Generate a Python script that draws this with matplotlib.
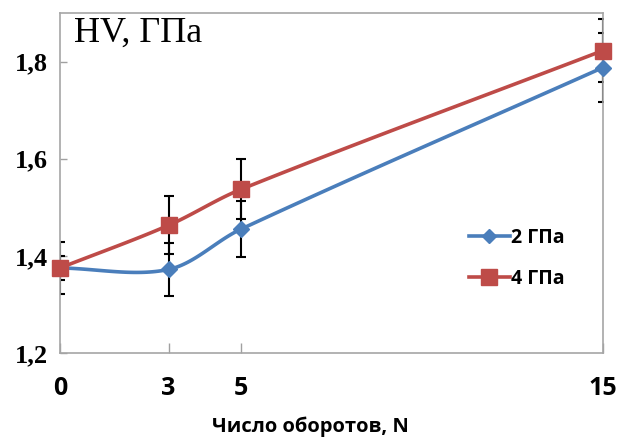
import numpy as np
import matplotlib.pyplot as plt

# Число оборотов N
oboroty = [0, 3, 5, 15]
# Микротвердость HV, ГПа
hv_2gpa = [1.375, 1.372, 1.455, 1.788]
hv_4gpa = [1.375, 1.463, 1.537, 1.823]
# Погрешности
err_2gpa = [0.025, 0.055, 0.057, 0.072]
err_4gpa = [0.054, 0.060, 0.062, 0.065]

x_ticks = [0, 3, 5, 15]
y_ticks = [1.2, 1.4, 1.6, 1.8]
y_labels = ['1,2', '1,4', '1,6', '1,8']


def sglazhivanie(ax, x, y, n=40):
    # сглаженная линия: кривые Безье, касательные считаются в пикселях
    tr = ax.transData
    p = tr.transform(np.column_stack([x, y]).astype(float))
    p_ext = np.vstack([p[0], p, p[-1]])
    t = np.linspace(0, 1, n)[:, None]
    pts = []
    for i in range(len(p) - 1):
        p0, p1, p2, p3 = p_ext[i], p_ext[i + 1], p_ext[i + 2], p_ext[i + 3]
        d01 = np.hypot(*(p1 - p0))
        d12 = np.hypot(*(p2 - p1))
        d23 = np.hypot(*(p3 - p2))
        c1 = p1 + (p2 - p0) * d12 / (d01 + d12) / 3
        c2 = p2 - (p3 - p1) * d12 / (d12 + d23) / 3
        seg = ((1 - t) ** 3 * p1 + 3 * (1 - t) ** 2 * t * c1
               + 3 * (1 - t) * t ** 2 * c2 + t ** 3 * p2)
        pts.append(seg)
    pts = tr.inverted().transform(np.vstack(pts))
    return pts[:, 0], pts[:, 1]


sans = ['Open Sans', 'DejaVu Sans']
serif = ['Liberation Serif', 'DejaVu Serif']

fig = plt.figure(figsize=(6.19, 4.40), dpi=100)
ax = fig.add_axes([0.097, 0.198, 0.877, 0.772])
ax.set_xlim(0, 15)
ax.set_ylim(1.2, 1.9)

sinij = '#4A7EBB'
krasnyj = '#BE4B48'

# погрешности
ax.errorbar(oboroty, hv_2gpa, yerr=err_2gpa, fmt='none', ecolor='black',
            elinewidth=1.5, capsize=3.5, capthick=1.5, zorder=2)
ax.errorbar(oboroty, hv_4gpa, yerr=err_4gpa, fmt='none', ecolor='black',
            elinewidth=1.5, capsize=3.5, capthick=1.5, zorder=2)

xs, ys = sglazhivanie(ax, oboroty, hv_2gpa)
ax.plot(xs, ys, color=sinij, lw=2.6, zorder=3)
ax.plot(oboroty, hv_2gpa, ls='none', marker='D', ms=8.5, color=sinij,
        zorder=4, clip_on=False)
xs, ys = sglazhivanie(ax, oboroty, hv_4gpa)
ax.plot(xs, ys, color=krasnyj, lw=2.6, zorder=3)
ax.plot(oboroty, hv_4gpa, ls='none', marker='s', ms=12, color=krasnyj,
        zorder=4, clip_on=False)

# элементы легенды
ax.plot([], [], color=sinij, lw=2.6, marker='D', ms=7, label='2 ГПа')
ax.plot([], [], color=krasnyj, lw=2.6, marker='s', ms=11, label='4 ГПа')
leg = ax.legend(loc='center left', bbox_to_anchor=(0.735, 0.278), frameon=False,
                borderpad=0, handlelength=2.1, handletextpad=0.05,
                labelspacing=1.1,
                prop={'family': sans, 'weight': 'bold', 'size': 14})

ax.set_xticks(x_ticks)
ax.set_xticklabels([str(v) for v in x_ticks], family=sans, weight='bold', fontsize=18)
ax.set_yticks(y_ticks)
ax.set_yticklabels(y_labels, family=serif, weight='bold', fontsize=19)
ax.tick_params(axis='x', direction='in', length=7, width=1, color='#A0A0A0', pad=17)
ax.tick_params(axis='y', direction='in', length=5, width=1, color='#A0A0A0', pad=9)
ax.tick_params(top=False, right=False)
for s in ax.spines.values():
    s.set_color('#A6A6A6')
    s.set_linewidth(1.2)

ax.text(0.025, 0.99, 'HV, ГПа', transform=ax.transAxes, ha='left', va='top',
        family=serif, fontsize=26)
ax.set_xlabel('Число оборотов, N', family=sans, weight='bold', fontsize=14.5)
ax.xaxis.set_label_coords(0.462, -0.218)
ax.xaxis.label.set_va('center')

fig.savefig('out.png', dpi=100)
